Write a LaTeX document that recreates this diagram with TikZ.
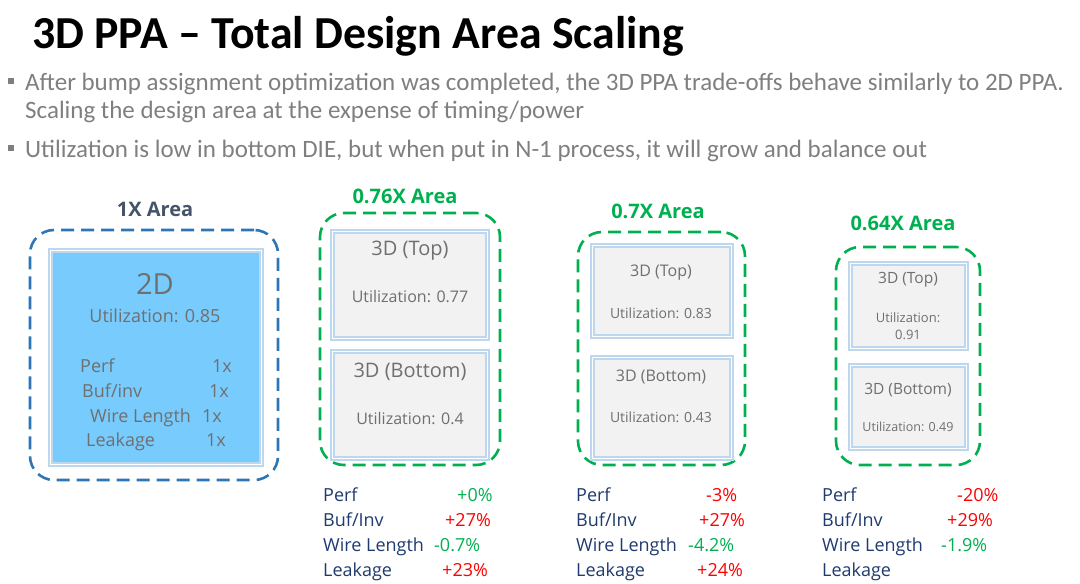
\documentclass[tikz,border=0pt]{standalone}
\usepackage{fontspec}
\setmainfont{Open Sans}
\newfontfamily\calfont{Carlito}
\usetikzlibrary{positioning}
\definecolor{areablue}{HTML}{2E75B6}
\definecolor{areagreen}{HTML}{00B050}
\definecolor{labelgray}{HTML}{44546A}
\definecolor{twodblue}{HTML}{78CBFD}
\definecolor{diegray}{HTML}{F2F2F2}
\definecolor{dieedge}{HTML}{BDD7EE}
\definecolor{dietext}{HTML}{6F6F6F}
\definecolor{bulletgray}{HTML}{7F7F7F}
\definecolor{statnavy}{HTML}{1F3A6E}
\definecolor{worse}{HTML}{FF0000}
\definecolor{better}{HTML}{00B050}
\newcommand{\fsz}[1]{\fontsize{#1}{#1}\selectfont}
\tikzstyle{area}     = [rectangle, line width=2.6pt, dash pattern=on 13pt off 7pt,
                        rounded corners=24pt, inner sep=0pt]
\tikzstyle{die}      = [rectangle, draw=dieedge, line width=2.2pt, fill=diegray,
                        inner sep=0pt, double=white, double distance=0.6pt]
\tikzstyle{areaname} = [font=\fsz{20}\bfseries]
\tikzstyle{dietxt}   = [text=dietext]
\tikzstyle{stat}     = [anchor=base west, text=statnavy, font=\fsz{18}, inner sep=0pt]
\tikzstyle{val}      = [anchor=base west, font=\fsz{18}, inner sep=0pt]
\tikzstyle{bullet}   = [rectangle, fill=bulletgray, minimum size=6pt, inner sep=0pt]
\tikzstyle{btext}    = [anchor=base west, text=bulletgray, font=\calfont\fsz{25}, inner sep=0pt]

\begin{document}
\begin{tikzpicture}[x=1pt, y=-1pt]
  \useasboundingbox (0,0) rectangle (1080,584);

  %% Title and bullets
  \node[anchor=base west, inner sep=0pt, font=\calfont\fsz{45.8}\bfseries] (title)
        at (32,48) {3D PPA – Total Design Area Scaling};
  \node[bullet] (b1) at (11,81) {};
  \node[btext] (b1a) at (25,90)
        {After bump assignment optimization was completed, the 3D PPA trade-offs behave similarly to 2D PPA.};
  \node[btext] (b1b) at (25,118) {Scaling the design area at the expense of timing/power};
  \node[bullet] (b2) at (11,148) {};
  \node[btext] (b2a) at (25,157)
        {Utilization is low in bottom DIE, but when put in N-1 process, it will grow and balance out};

  %% 1X area (2D)
  \node[area, draw=areablue, minimum width=248pt, minimum height=250pt] (a1) at (154,355) {};
  \node[areaname, text=labelgray] (a1name) at (155,209) {1X Area};
  \node[die, fill=twodblue, minimum width=211pt, minimum height=214pt] (twod) at (155.5,357) {};
  \node[dietxt, font=\fsz{29}] (twodname) at (155,284) {2D};
  \node[dietxt, font=\fsz{18}] (twodutil) at (155,316) {Utilization: 0.85};
  \foreach \lab/\lx/\vx/\ly in {Perf/80/212/372, Buf\slash inv/82/209/397,
                               Wire Length/90/202/422, Leakage/86/206/446}{
    \node[dietxt, font=\fsz{18}, anchor=base west, inner sep=0pt] at (\lx,\ly) {\lab};
    \node[dietxt, font=\fsz{18}, anchor=base west, inner sep=0pt] at (\vx,\ly) {1x};
  }

  %% 0.76X area
  \node[area, draw=areagreen, minimum width=180pt, minimum height=252pt] (a2) at (410,339) {};
  \node[areaname, text=areagreen] (a2name) at (405,196) {0.76X Area};
  \node[die, minimum width=155pt, minimum height=107pt] (top2) at (409.5,284.5) {};
  \node[die, minimum width=155pt, minimum height=107pt] (bot2) at (409.5,404.5) {};
  \node[dietxt, font=\fsz{20}] (top2name) at (410,251) {3D (Top)};
  \node[dietxt, font=\fsz{16}] (top2util) at (410,297) {Utilization: 0.77};
  \node[dietxt, font=\fsz{20}] (bot2name) at (410,372) {3D (Bottom)};
  \node[dietxt, font=\fsz{16}] (bot2util) at (410,419) {Utilization: 0.4};

  %% 0.7X area
  \node[area, draw=areagreen, minimum width=167pt, minimum height=233pt] (a3) at (661.5,348.5) {};
  \node[areaname, text=areagreen] (a3name) at (658,211) {0.7X Area};
  \node[die, minimum width=139pt, minimum height=91pt] (top3) at (661.5,290.5) {};
  \node[die, minimum width=139pt, minimum height=101pt] (bot3) at (661.5,407.5) {};
  \node[dietxt, font=\fsz{16}] (top3name) at (661,273) {3D (Top)};
  \node[dietxt, font=\fsz{14}] (top3util) at (661,313) {Utilization: 0.83};
  \node[dietxt, font=\fsz{16}] (bot3name) at (661,377) {3D (Bottom)};
  \node[dietxt, font=\fsz{14}] (bot3util) at (661,417) {Utilization: 0.43};

  %% 0.64X area
  \node[area, draw=areagreen, minimum width=144pt, minimum height=218pt] (a4) at (908,356) {};
  \node[areaname, text=areagreen] (a4name) at (903,223) {0.64X Area};
  \node[die, minimum width=116pt, minimum height=85pt] (top4) at (908,305.5) {};
  \node[die, minimum width=116pt, minimum height=83pt] (bot4) at (908,406.5) {};
  \node[dietxt, font=\fsz{15.5}] (top4name) at (908,280) {3D (Top)};
  \node[dietxt, font=\fsz{13}, align=center] (top4util) at (908,326)
        {Utilization:\\[4pt]0.91};
  \node[dietxt, font=\fsz{15.5}] (bot4name) at (908,390) {3D (Bottom)};
  \node[dietxt, font=\fsz{12.5}] (bot4util) at (908,427) {Utilization: 0.49};

  %% PPA deltas
  \foreach \cx/\col in {323/c1, 576/c2, 822/c3}{
    \node[stat] (\col perf) at (\cx,501) {Perf};
    \node[stat] (\col buf) at (\cx,526) {Buf/Inv};
    \node[stat] (\col wire) at (\cx,551) {Wire Length};
    \node[stat] (\col leak) at (\cx,576) {Leakage};
  }
  \node[val, text=better] (c1v1) at (457,501) {+0\%};
  \node[val, text=worse]  (c1v2) at (445,526) {+27\%};
  \node[val, text=better] (c1v3) at (434,551) {-0.7\%};
  \node[val, text=worse]  (c1v4) at (442,576) {+23\%};
  \node[val, text=worse]  (c2v1) at (706,501) {-3\%};
  \node[val, text=worse]  (c2v2) at (699,526) {+27\%};
  \node[val, text=better] (c2v3) at (688,551) {-4.2\%};
  \node[val, text=worse]  (c2v4) at (697,576) {+24\%};
  \node[val, text=worse]  (c3v1) at (957,501) {-20\%};
  \node[val, text=worse]  (c3v2) at (947,526) {+29\%};
  \node[val, text=better] (c3v3) at (941,551) {-1.9\%};

\end{tikzpicture}
\end{document}
